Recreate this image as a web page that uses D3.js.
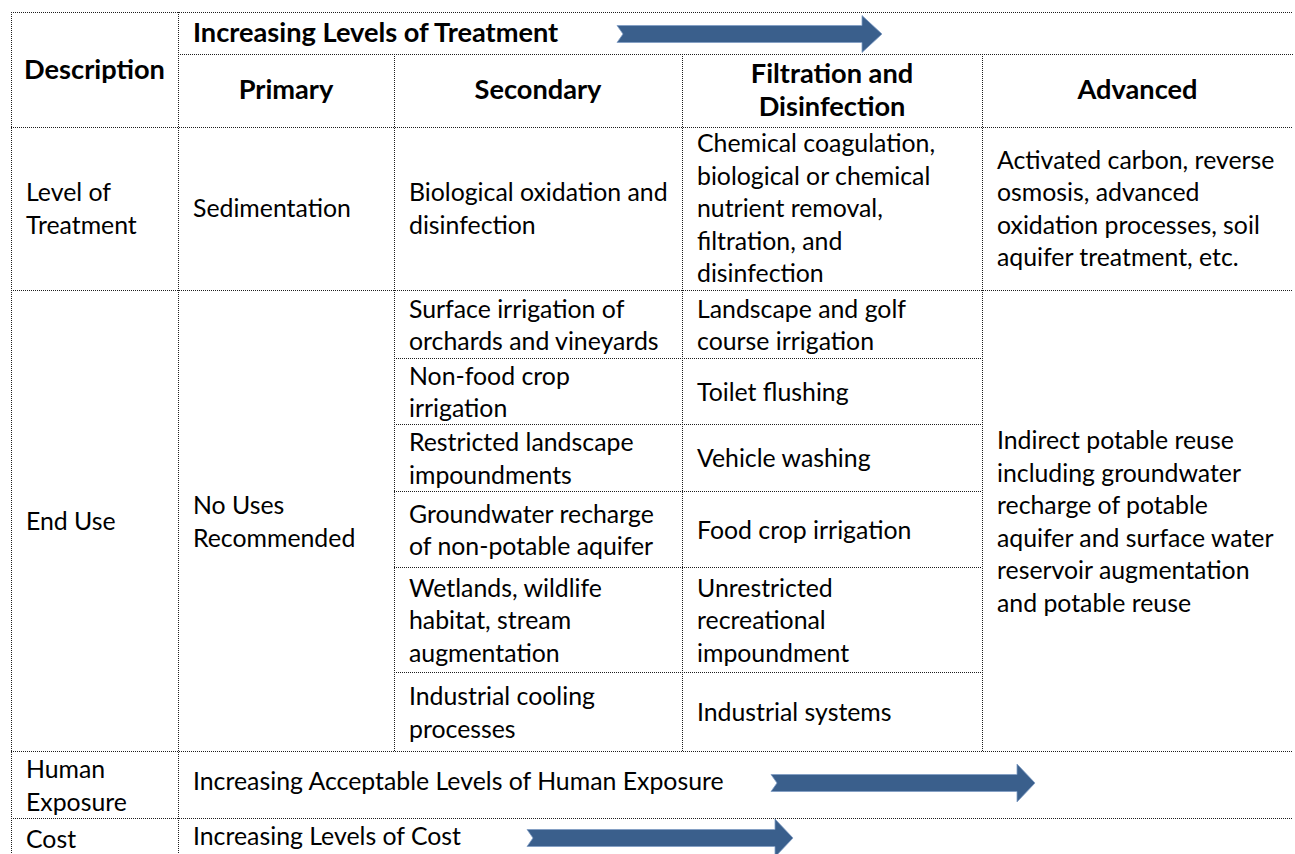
<!DOCTYPE html>
<html>
<head>
<meta charset="utf-8">
<script src="https://cdn.jsdelivr.net/npm/d3@7"></script>
<style>
  html, body { margin: 0; padding: 0; background: #fff; }
  svg { display: block; }
</style>
</head>
<body>
<svg id="chart" width="1295" height="854"></svg>
<script>
// ---------- DATA ----------
const descriptionHeader = "Description";
const treatmentTrendLabel = "Increasing Levels of Treatment";
const treatmentLevels = ["Primary", "Secondary", "Filtration and\nDisinfection", "Advanced"];
const rowLabels = ["Level of\nTreatment", "End Use", "Human\nExposure", "Cost"];
const levelOfTreatment = [
  "Sedimentation",
  "Biological oxidation and\ndisinfection",
  "Chemical coagulation,\nbiological or chemical\nnutrient removal,\nfiltration, and\ndisinfection",
  "Activated carbon, reverse\nosmosis, advanced\noxidation processes, soil\naquifer treatment, etc."
];
const primaryEndUse = "No Uses\nRecommended";
const secondaryEndUses = [
  "Surface irrigation of\norchards and vineyards",
  "Non-food crop\nirrigation",
  "Restricted landscape\nimpoundments",
  "Groundwater recharge\nof non-potable aquifer",
  "Wetlands, wildlife\nhabitat, stream\naugmentation",
  "Industrial cooling\nprocesses"
];
const filtrationEndUses = [
  "Landscape and golf\ncourse irrigation",
  "Toilet flushing",
  "Vehicle washing",
  "Food crop irrigation",
  "Unrestricted\nrecreational\nimpoundment",
  "Industrial systems"
];
const advancedEndUse = "Indirect potable reuse\nincluding groundwater\nrecharge of potable\naquifer and surface water\nreservoir augmentation\nand potable reuse";
const exposureTrendLabel = "Increasing Acceptable Levels of Human Exposure";
const costTrendLabel = "Increasing Levels of Cost";

// ---------- LAYOUT ----------
const svg = d3.select("#chart");
const colEdges = [11, 178, 394, 682, 982, 1293];
const rowEdges = { top: 12, head1: 54, head2: 127, treat: 290, end: 751, expo: 818, cost: 862 };
const subRowEdges = [290, 358, 424, 491, 567, 672, 751];
const lineH = 32.5;
const pad = 15;
const FONT = "Lato, 'Open Sans', sans-serif";

// Calibrate font size so that text widths resemble the original
function calib(str, weight, target) {
  const t = svg.append("text").attr("font-family", FONT).attr("font-size", 100)
    .attr("font-weight", weight).text(str);
  const w = t.node().getComputedTextLength();
  t.remove();
  return 100 * target / w;
}
const fsReg = calib("Sedimentation", 400, 158);
const fsBold = calib("Secondary", 700, 127);

const x = d3.scaleOrdinal().domain(d3.range(colEdges.length)).range(colEdges);

function drawText(str, cx, cy, anchor, bold) {
  const lines = str.split("\n");
  const y0 = cy - (lines.length - 1) * lineH / 2;
  const t = svg.append("text")
    .attr("font-family", FONT)
    .attr("font-size", bold ? fsBold : fsReg)
    .attr("font-weight", bold ? 700 : 400)
    .attr("fill", "#000")
    .attr("text-anchor", anchor);
  lines.forEach((ln, i) => {
    t.append("tspan").attr("x", cx).attr("y", y0 + i * lineH).attr("dy", "0.36em").text(ln);
  });
}
function cellText(str, c, yTop, yBot, opts = {}) {
  const cy = (yTop + yBot) / 2 + (opts.dy || 0);
  if (opts.center) drawText(str, (x(c) + x(c + 1)) / 2, cy, "middle", opts.bold);
  else drawText(str, x(c) + pad, cy, "start", opts.bold);
}

// ---------- GRID LINES ----------
const grid = svg.append("g")
  .attr("stroke", "#1e1e1e").attr("stroke-width", 1)
  .attr("stroke-dasharray", "1,1").attr("shape-rendering", "crispEdges");
function hline(y, x1, x2) { grid.append("line").attr("x1", x1).attr("x2", x2).attr("y1", y + 0.5).attr("y2", y + 0.5); }
function vline(xx, y1, y2) { grid.append("line").attr("x1", xx + 0.5).attr("x2", xx + 0.5).attr("y1", y1).attr("y2", y2); }

hline(rowEdges.top, colEdges[0], colEdges[5]);
hline(rowEdges.head1, colEdges[1], colEdges[5]);
[rowEdges.head2, rowEdges.treat, rowEdges.end, rowEdges.expo, rowEdges.cost]
  .forEach(y => hline(y, colEdges[0], colEdges[5]));
subRowEdges.slice(1, -1).forEach(y => hline(y, colEdges[2], colEdges[4]));
vline(colEdges[0], rowEdges.top, rowEdges.cost);
vline(colEdges[1], rowEdges.top, rowEdges.cost);
[2, 3, 4].forEach(c => vline(colEdges[c], rowEdges.head1, rowEdges.end));

// ---------- ARROWS ----------
function arrow(x0, x1, cy, shaftH, headH, headL, notch) {
  const p = d3.path();
  p.moveTo(x0, cy - shaftH / 2);
  p.lineTo(x1 - headL, cy - shaftH / 2);
  p.lineTo(x1 - headL, cy - headH / 2);
  p.lineTo(x1, cy);
  p.lineTo(x1 - headL, cy + headH / 2);
  p.lineTo(x1 - headL, cy + shaftH / 2);
  p.lineTo(x0, cy + shaftH / 2);
  p.lineTo(x0 + notch, cy);
  p.closePath();
  svg.append("path").attr("d", p.toString())
    .attr("fill", "#3A5F8C").attr("stroke", "#7F9CC4").attr("stroke-width", 0.8);
}

// ---------- HEADER ----------
drawText(descriptionHeader, (colEdges[0] + colEdges[1]) / 2, (rowEdges.top + rowEdges.head2) / 2, "middle", true);
drawText(treatmentTrendLabel, colEdges[1] + pad, (rowEdges.top + rowEdges.head1) / 2 - 1, "start", true);
arrow(617, 882, 34, 17, 37, 20, 6);
treatmentLevels.forEach((lbl, i) => cellText(lbl, i + 1, rowEdges.head1, rowEdges.head2, { center: true, bold: true, dy: -1 }));

// ---------- LEVEL OF TREATMENT ----------
cellText(rowLabels[0], 0, rowEdges.head2, rowEdges.treat);
levelOfTreatment.forEach((s, i) => cellText(s, i + 1, rowEdges.head2, rowEdges.treat));

// ---------- END USE ----------
cellText(rowLabels[1], 0, rowEdges.treat, rowEdges.end, { dy: 1 });
cellText(primaryEndUse, 1, rowEdges.treat, rowEdges.end, { dy: 1 });
secondaryEndUses.forEach((s, i) => cellText(s, 2, subRowEdges[i], subRowEdges[i + 1], { dy: 1 }));
filtrationEndUses.forEach((s, i) => cellText(s, 3, subRowEdges[i], subRowEdges[i + 1], { dy: 1 }));
cellText(advancedEndUse, 4, rowEdges.treat, rowEdges.end, { dy: 1 });

// ---------- HUMAN EXPOSURE ----------
cellText(rowLabels[2], 0, rowEdges.end, rowEdges.expo, { dy: 1 });
drawText(exposureTrendLabel, colEdges[1] + pad, 781, "start", false);
arrow(771, 1035, 783, 17, 38, 18, 6);

// ---------- COST ----------
drawText(rowLabels[3], colEdges[0] + pad, 839, "start", false);
drawText(costTrendLabel, colEdges[1] + pad, 836, "start", false);
arrow(527, 793, 838, 17, 38, 18, 6);
</script>
</body>
</html>
